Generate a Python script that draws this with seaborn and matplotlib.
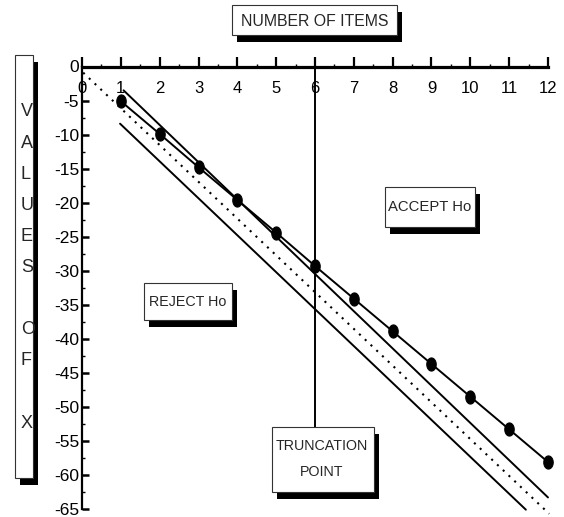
import matplotlib
matplotlib.use("Agg")
import matplotlib.pyplot as plt
from matplotlib.patches import Rectangle
from matplotlib.path import Path
from matplotlib.ticker import MultipleLocator
import numpy as np
import pandas as pd
import seaborn as sns

# ---------------- data ----------------
items = [1, 2, 3, 4, 5, 6, 7, 8, 9, 10, 11, 12]
values = [-5.1, -9.9, -14.8, -19.6, -24.4, -29.3, -34.1, -38.9, -43.7, -48.5, -53.3, -58.1]

upper_x = [1.07, 12.0]
upper_y = [-3.5, -63.3]
lower_x = [0.98, 11.43]
lower_y = [-8.4, -65.1]
dotted_x = [0.03, 12.03]
dotted_y = [-0.9, -65.7]
trunc_x = [6, 6]
trunc_y = [0, -52.9]

xtick_vals = [0, 1, 2, 3, 4, 5, 6, 7, 8, 9, 10, 11, 12]
xtick_labels = ["0", "1", "2", "3", "4", "5", "6", "7", "8", "9", "10", "11", "12"]
ytick_vals = [0, -5, -10, -15, -20, -25, -30, -35, -40, -45, -50, -55, -60, -65]
ytick_labels = ["0", "-5", "-10", "-15", "-20", "-25", "-30", "-35", "-40", "-45",
                "-50", "-55", "-60", "-65"]

title_text = "NUMBER OF ITEMS"
ylabel_text = "VALUES OF X"
reject_text = "REJECT Ho"
accept_text = "ACCEPT Ho"
trunc_text = "TRUNCATION\nPOINT"

# ---------------- style ----------------
sns.set_style("white")
REG = "Liberation Sans"
plt.rcParams["font.family"] = [REG, "DejaVu Sans"]
plt.rcParams["axes.unicode_minus"] = False

W, H = 564, 517
fig = plt.figure(figsize=(W / 100, H / 100), dpi=100)
fig.patch.set_facecolor("white")


def fx(px):
    return px / W


def fy(py):
    return 1 - py / H


ax = fig.add_axes([fx(82), fy(509), fx(548) - fx(82), fy(66.5) - fy(509)])
ax.set_facecolor("white")

# ---------------- marks ----------------
theta = np.linspace(0, 2 * np.pi, 40)
ellipse = Path(np.column_stack([0.72 * np.cos(theta), np.sin(theta)]), closed=True)

line_kw = dict(color="black", linewidth=1.4, clip_on=False)
sns.lineplot(x=upper_x, y=upper_y, ax=ax, **line_kw)
sns.lineplot(x=lower_x, y=lower_y, ax=ax, **line_kw)
sns.lineplot(x=dotted_x, y=dotted_y, ax=ax, color="black", linewidth=1.5,
             clip_on=False)
ax.lines[-1].set_dashes((1, 2.8))
sns.lineplot(x=trunc_x, y=trunc_y, ax=ax, color="black", linewidth=1.4,
             orient="y", clip_on=False)
df = pd.DataFrame({"items": items, "values": values})
sns.lineplot(data=df, x="items", y="values", ax=ax, color="black", linewidth=1.4,
             marker=ellipse, markersize=9.5, markeredgecolor="black",
             markerfacecolor="black", clip_on=False)

# ---------------- axes ----------------
ax.set_xlim(0, 12)
ax.set_ylim(-65, 0)
ax.set_xlabel("")
ax.set_ylabel("")
for s in ["right", "bottom"]:
    ax.spines[s].set_visible(False)
ax.spines["top"].set_linewidth(2.3)
ax.spines["left"].set_linewidth(1.6)
ax.spines["top"].set_color("black")
ax.spines["left"].set_color("black")

ax.xaxis.set_ticks_position("top")
ax.set_xticks(xtick_vals)
ax.set_xticklabels(xtick_labels)
ax.xaxis.set_minor_locator(MultipleLocator(0.5))
ax.tick_params(axis="x", which="major", direction="out", length=7, width=1.6,
               color="black", top=True, bottom=False, labeltop=True,
               labelbottom=False, pad=-28.5, labelsize=12, labelfontfamily=REG,
               labelcolor="black")
ax.tick_params(axis="x", which="minor", direction="out", length=2, width=1,
               color="black", top=True, bottom=False)

ax.set_yticks(ytick_vals)
ax.set_yticklabels(ytick_labels)
ax.yaxis.set_minor_locator(MultipleLocator(2.5))
ax.tick_params(axis="y", which="major", direction="in", length=5, width=1.8,
               color="black", left=True, right=False, pad=2, labelsize=12.5,
               labelfontfamily=REG, labelcolor="black")
ax.tick_params(axis="y", which="minor", direction="in", length=2, width=1,
               color="black", left=True, right=False)
ax.grid(False)


# ---------------- shadow boxes ----------------
def shadow_box(x0, y0, x1, y1, dx=5, dy=7):
    fig.add_artist(Rectangle((fx(x0 + dx), fy(y1 + dy)), fx(x1) - fx(x0),
                             fy(y0) - fy(y1), transform=fig.transFigure,
                             facecolor="black", edgecolor="none", zorder=10))
    fig.add_artist(Rectangle((fx(x0), fy(y1)), fx(x1) - fx(x0), fy(y0) - fy(y1),
                             transform=fig.transFigure, facecolor="white",
                             edgecolor="#333333", linewidth=0.8, zorder=11))


fig.canvas.draw()
renderer = fig.canvas.get_renderer()


def fitted_text(cx, cy, s, size, target_w, **kw):
    t = fig.text(fx(cx), fy(cy), s, ha="center", va="center", fontsize=size,
                 family=REG, zorder=12, **kw)
    w = t.get_window_extent(renderer=renderer).width
    if w > target_w:
        t.set_fontsize(size * target_w / w)
    return t


shadow_box(232, 5, 397, 35)
fitted_text(315, 21, title_text, 13.2, 148)

shadow_box(144, 283, 232, 320)
fitted_text(188, 302, reject_text, 12.5, 77)

shadow_box(385, 187, 475, 227)
fitted_text(430, 207, accept_text, 12.5, 83)

shadow_box(272, 427, 374, 492)
fitted_text(322, 459, trunc_text, 12, 92, linespacing=2.0)

shadow_box(15, 55, 33, 478, dx=5, dy=7)
for i, ch in enumerate(ylabel_text):
    if ch.strip():
        fig.text(fx(21), fy(112 + 31.1 * i), ch, ha="left", va="center",
                 fontsize=13, family=REG, zorder=12)

fig.savefig("out.png", dpi=100, facecolor="white")
